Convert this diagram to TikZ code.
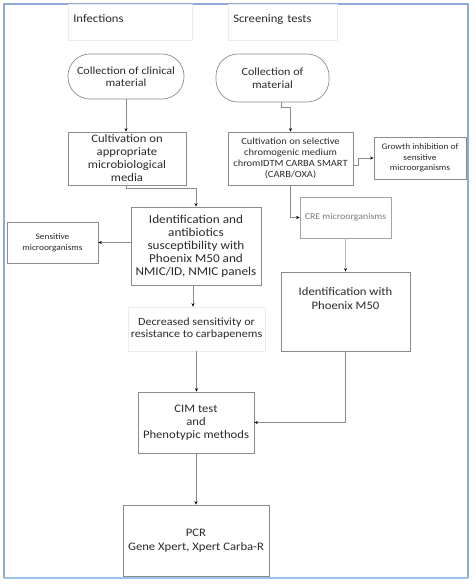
\documentclass[tikz,border=0pt]{standalone}
\usepackage{fontspec}
\setmainfont{Carlito}[FakeStretch=1.1]
\usetikzlibrary{arrows.meta}
\definecolor{txt}{HTML}{2A2A2A}
\definecolor{bord}{HTML}{8C8C8C}
\definecolor{faint}{HTML}{ECECEC}
\definecolor{frame}{HTML}{8EAADB}
\definecolor{frameb}{HTML}{9DC3E6}
\definecolor{cyanl}{HTML}{7FD6D0}
\definecolor{cretxt}{HTML}{7A7A7A}
\tikzset{
  bx/.style={draw=bord, line width=0.7pt, align=center, inner sep=0pt, text=txt},
  stad/.style={bx, rounded corners=22pt},
  hdr/.style={draw=faint, line width=0.6pt, align=left, anchor=north west, inner xsep=5pt, inner ysep=3pt, text=txt, font=\fontsize{11.5}{13}\selectfont},
  arr/.style={draw=bord, line width=0.6pt, -{Stealth[length=3.5pt,width=3pt,color=black]}},
}
\begin{document}
\begin{tikzpicture}[x=1pt,y=-1pt]
\useasboundingbox (0,0) rectangle (474,585);
\draw[frame, line width=1.2pt] (4,578) -- (4,4) -- (468,4) -- (468,578);
\draw[frameb, line width=1.2pt] (4,578) -- (468,578);
% headers
\node[hdr, text width=114pt, text height=15pt, text depth=15pt] (hinf) at (68,4) {Infections};
\node[hdr, text width=99pt, text height=15pt, text depth=15pt] (hscr) at (228,4) {Screening tests};
% nodes
\node[stad, minimum width=116pt, minimum height=45pt, font=\fontsize{11}{12.5}\selectfont] (coll1) at (126,76.5) {Collection of clinical\\material};
\node[stad, minimum width=113pt, minimum height=48pt, font=\fontsize{11}{12.5}\selectfont] (coll2) at (272.5,78) {Collection of\\material};
\node[bx, minimum width=118pt, minimum height=53pt, font=\fontsize{11.5}{13}\selectfont] (cult1) at (127,158.5) {Cultivation on\\appropriate\\microbiological\\media};
\node[bx, minimum width=125pt, minimum height=53pt, font=\fontsize{9.5}{11}\selectfont] (cult2) at (290.5,158.5) {Cultivation on selective\\chromogenic medium\\chromIDTM CARBA SMART\\(CARB/OXA)};
\node[bx, minimum width=92pt, minimum height=42pt, font=\fontsize{8.5}{10.5}\selectfont] (growth) at (420,158) {Growth inhibition of\\sensitive\\microorganisms};
\node[bx, minimum width=130pt, minimum height=78pt, font=\fontsize{12}{13}\selectfont] (ident) at (196,246) {Identification and\\antibiotics\\susceptibility with\\Phoenix M50 and\\NMIC/ID, NMIC panels};
\node[bx, minimum width=91pt, minimum height=41pt, font=\fontsize{8.5}{11}\selectfont] (sens) at (52.5,242.5) {Sensitive\\microorganisms};
\node[bx, draw=bord!80, minimum width=91pt, minimum height=41pt, text=cretxt, font=\fontsize{9}{11}\selectfont] (cre) at (345.5,217.5) {CRE microorganisms};
\node[bx, minimum width=129pt, minimum height=79pt, font=\fontsize{11.5}{14}\selectfont] (phoenix) at (345.5,311.5) {Identification with\\Phoenix M50\\[12pt]\mbox{}};
\node[bx, draw=faint, minimum width=137pt, minimum height=44pt, font=\fontsize{11}{12}\selectfont] (decr) at (196.5,329) {Decreased sensitivity or\\resistance to carbapenems};
\node[bx, minimum width=116pt, minimum height=61pt, font=\fontsize{11.5}{13}\selectfont] (cim) at (196,422.5) {CIM test\\and\\Phenotypic methods};
\node[bx, minimum width=146pt, minimum height=71pt, font=\fontsize{11.5}{14}\selectfont] (pcr) at (196,540.5) {PCR\\Gene Xpert, Xpert Carba-R};
% connectors
\draw[arr] (coll1.south) -- (coll1.south |- cult1.north);
\draw[arr] ([xshift=8.5pt]coll2.south) -- ++(0,5) -| (cult2.north);
\draw[arr] ([yshift=-6.5pt]cult2.east) -- ++(5,0) |- (growth.west);
\draw[arr] ([xshift=-1pt]cult1.south) -- ++(0,3) -| (ident.north);
\draw[arr] (cult2.south) |- (cre.west);
\draw[arr] (ident.west |- sens.east) -- (sens.east);
\draw[arr, draw=cyanl] (cre.south) -- (phoenix.north);
\draw[arr] ([xshift=-3pt]ident.south) -- ([xshift=-3pt]ident.south |- decr.north);
\draw[arr] (decr.south) -- (decr.south |- cim.north);
\draw[arr] (phoenix.south) |- (cim.east);
\draw[arr] (cim.south) -- (pcr.north);
\end{tikzpicture}
\end{document}
